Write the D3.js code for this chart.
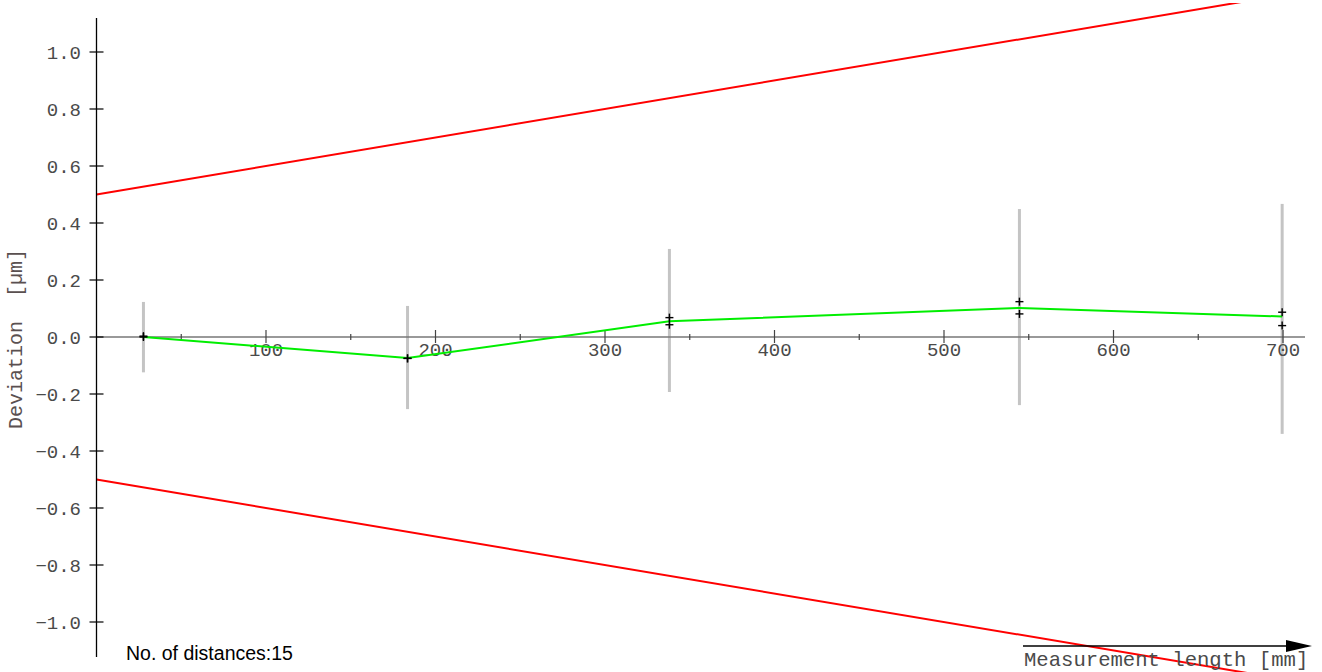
<!DOCTYPE html>
<html><head><meta charset="utf-8">
<script src="https://cdn.jsdelivr.net/npm/d3@7"></script>
<style>body{margin:0;background:#fff}svg{display:block}</style>
</head><body>
<script>
// ---- data ----
const positions = [27.7, 183.5, 338, 544.5, 699.5];          // mm
const run1 = [0.003, -0.075, 0.068, 0.124, 0.087];           // µm
const run2 = [0.000, -0.075, 0.043, 0.081, 0.040];           // µm
const meanDev = [0.0, -0.074, 0.055, 0.102, 0.072];          // µm (green)
const uncUpper = [0.123, 0.109, 0.309, 0.449, 0.467];
const uncLower = [-0.124, -0.253, -0.193, -0.239, -0.34];
const limitX = [0, 700];
const upperLimit = [0.5, 1.2];
const lowerLimit = [-0.5, -1.2];
const yTicks = [-1.0, -0.8, -0.6, -0.4, -0.2, 0.0, 0.2, 0.4, 0.6, 0.8, 1.0];
const xMajor = [100, 200, 300, 400, 500, 600, 700];
const xMinor = [50, 150, 250, 350, 450, 550, 650];
const distanceCount = 15;

const W = 1322, H = 672;
const svg = d3.select("body").append("svg").attr("width", W).attr("height", H);
const x = d3.scaleLinear().domain([0, 700]).range([96.5, 1283]);
const y = d3.scaleLinear().domain([-1, 1]).range([622, 52]);
const axisX = x(0);

svg.append("clipPath").attr("id", "clip").append("rect")
  .attr("x", axisX).attr("y", 3).attr("width", W).attr("height", H);

// limit lines
const line = d3.line().x(d => x(d[0])).y(d => y(d[1]));
const g = svg.append("g").attr("clip-path", "url(#clip)");
[upperLimit, lowerLimit].forEach(l => {
  g.append("path").attr("d", line(limitX.map((v, i) => [v, l[i]])))
    .attr("fill", "none").attr("stroke", "#ff0000").attr("stroke-width", 2);
});

// uncertainty bars
svg.append("g").selectAll("line").data(positions).join("line")
  .attr("x1", d => x(d)).attr("x2", d => x(d))
  .attr("y1", (d, i) => y(uncUpper[i])).attr("y2", (d, i) => y(uncLower[i]))
  .attr("stroke", "#c4c4c4").attr("stroke-width", 3);

// x axis (gray line at zero)
svg.append("line").attr("x1", axisX).attr("x2", 1305).attr("y1", y(0)).attr("y2", y(0))
  .attr("stroke", "#777").attr("stroke-width", 1.3);
svg.append("g").selectAll("line").data(xMajor).join("line")
  .attr("x1", d => x(d)).attr("x2", d => x(d)).attr("y1", y(0) - 7).attr("y2", y(0) + 6)
  .attr("stroke", "#444").attr("stroke-width", 1.2);
svg.append("g").selectAll("line").data(xMinor).join("line")
  .attr("x1", d => x(d)).attr("x2", d => x(d)).attr("y1", y(0) - 3).attr("y2", y(0) + 3)
  .attr("stroke", "#444").attr("stroke-width", 1.2);
svg.append("g").selectAll("text").data(xMajor).join("text")
  .attr("x", d => x(d)).attr("y", y(0) + 19).attr("text-anchor", "middle")
  .attr("font-family", "Liberation Mono, Courier New, monospace").attr("font-size", 19)
  .attr("fill", "#4a4a4a").text(d => d);

// y axis
svg.append("line").attr("x1", axisX).attr("x2", axisX).attr("y1", 18).attr("y2", 657)
  .attr("stroke", "#000").attr("stroke-width", 1.3);
svg.append("g").selectAll("line").data(yTicks).join("line")
  .attr("x1", axisX - 7).attr("x2", axisX + 7).attr("y1", d => y(d)).attr("y2", d => y(d))
  .attr("stroke", "#000").attr("stroke-width", 1.2);
svg.append("g").selectAll("text").data(yTicks).join("text")
  .attr("x", 81).attr("y", d => y(d)).attr("dy", "0.35em").attr("text-anchor", "end")
  .attr("font-family", "Liberation Mono, Courier New, monospace").attr("font-size", 19)
  .attr("fill", "#4a4a4a").text(d => d3.format(".1f")(d).replace("-", "\u2212"));

svg.append("text").attr("transform", `translate(22,${(248 + 430) / 2}) rotate(-90)`)
  .attr("text-anchor", "middle")
  .attr("font-family", "Liberation Mono, Courier New, monospace").attr("font-size", 20)
  .attr("fill", "#5a5050").attr("xml:space", "preserve").style("white-space", "pre")
  .text("Deviation  [\u00b5m]");

// green mean line
svg.append("path").attr("d", line(positions.map((p, i) => [p, meanDev[i]])))
  .attr("fill", "none").attr("stroke", "#00ee00").attr("stroke-width", 2);

// markers
const pts = [];
positions.forEach((p, i) => { pts.push([p, run1[i]]); pts.push([p, run2[i]]); });
const mk = svg.append("g").selectAll("g").data(pts).join("g")
  .attr("transform", d => `translate(${x(d[0])},${y(d[1])})`);
mk.append("line").attr("x1", -4).attr("x2", 4).attr("stroke", "#000").attr("stroke-width", 1.4);
mk.append("line").attr("y1", -4).attr("y2", 4).attr("stroke", "#000").attr("stroke-width", 1.4);

// measurement length arrow
svg.append("line").attr("x1", 1023).attr("x2", 1292).attr("y1", 646).attr("y2", 646)
  .attr("stroke", "#000").attr("stroke-width", 1.3);
svg.append("path").attr("d", "M1286,640 L1312,646 L1286,652 Z").attr("fill", "#000");
svg.append("text").attr("x", 1024).attr("y", 666)
  .attr("font-family", "Liberation Mono, Courier New, monospace").attr("font-size", 20.6)
  .attr("fill", "#4a4a4a").text("Measurement length [mm]");

svg.append("text").attr("x", 126).attr("y", 660)
  .attr("font-family", "Liberation Sans, Arial, sans-serif").attr("font-size", 19.5)
  .attr("fill", "#000").text("No. of distances:" + distanceCount);
</script>
</body></html>
